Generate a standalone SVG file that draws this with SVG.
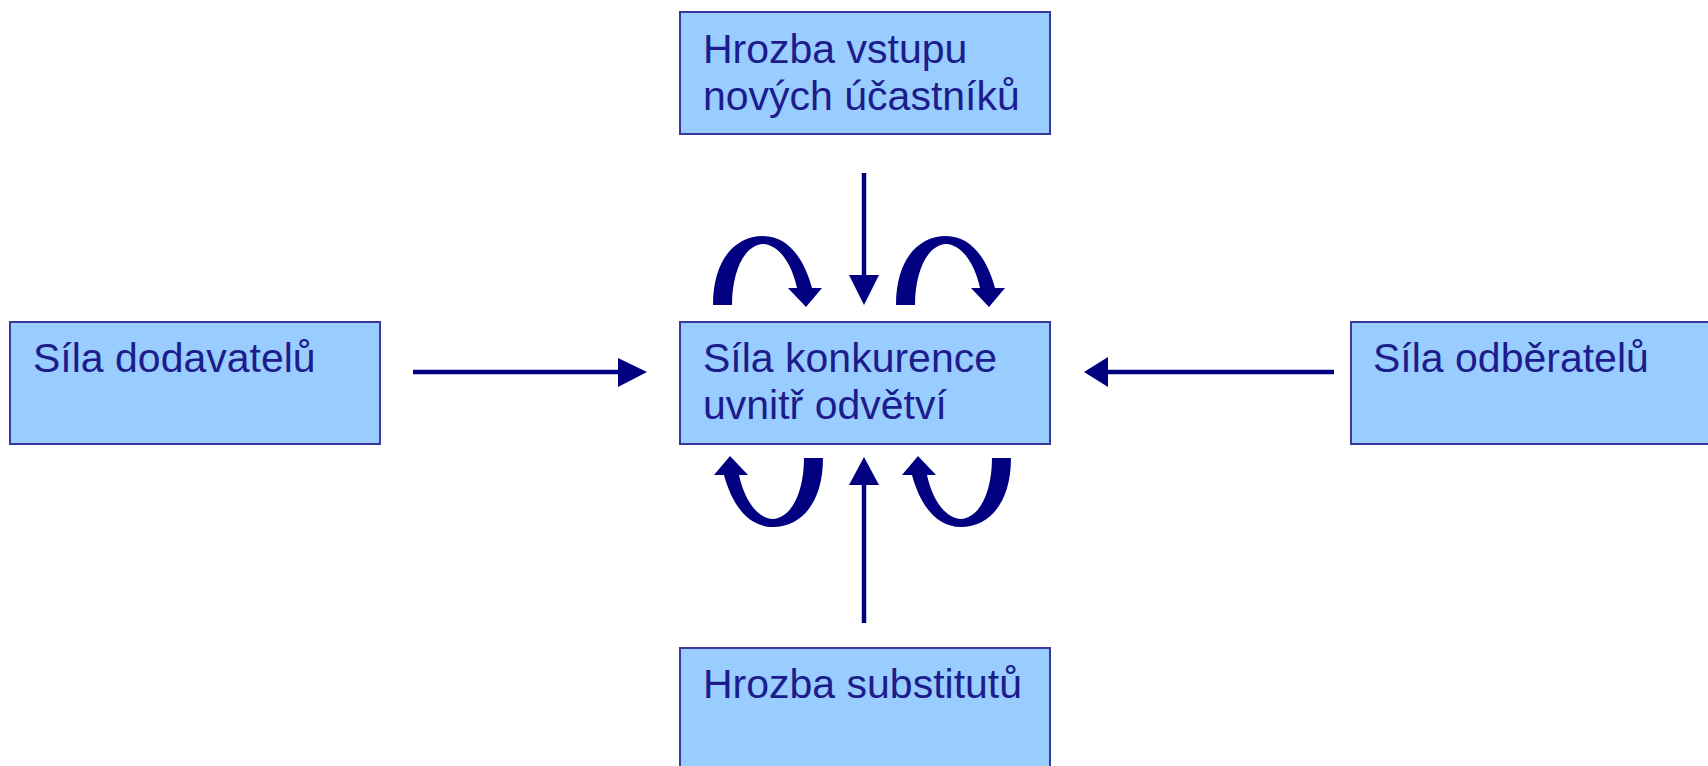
<svg xmlns="http://www.w3.org/2000/svg" xmlns:xlink="http://www.w3.org/1999/xlink" width="1708" height="766" viewBox="0 0 1708 766">
<style>
.box{fill:#99CCFF;stroke:#3A3A9C;stroke-width:2}
.lbl{font-family:"Liberation Sans",Arial,sans-serif;font-size:41px;fill:#1C1C8C}
.ln{stroke:#000080;stroke-width:4.5;fill:none}
.hd{fill:#000080}
</style>
<defs>
<path id="curl" d="M 0,0 C 0,-45 22,-69 50,-69 C 77,-69 92,-43 99,-17 L 109,-17 L 93,2 L 75,-17 L 84,-17 C 79,-40 67,-60 50,-61 C 32,-60 19,-35 19,0 Z" fill="#000080"/>
</defs>
<rect width="1708" height="766" fill="#ffffff"/>
<g id="connectors">
<line class="ln" x1="413" y1="372" x2="622" y2="372"/>
<polygon class="hd" points="618,358 647,372 618,387"/>
<line class="ln" x1="1334" y1="372" x2="1104" y2="372"/>
<polygon class="hd" points="1108,357 1084,372 1108,387"/>
<line class="ln" x1="864" y1="173" x2="864" y2="278"/>
<polygon class="hd" points="849,275 879,275 864,305"/>
<line class="ln" x1="864" y1="623" x2="864" y2="482"/>
<polygon class="hd" points="849,485 879,485 864,457"/>
<use xlink:href="#curl" href="#curl" transform="translate(713,305)"/>
<use xlink:href="#curl" href="#curl" transform="translate(896,305)"/>
<use xlink:href="#curl" href="#curl" transform="rotate(180 768 381.5) translate(713,305)"/>
<use xlink:href="#curl" href="#curl" transform="rotate(180 953.5 381.5) translate(896,305)"/>
</g>
<g id="node-entrants">
<rect class="box" x="680" y="12" width="370" height="122"/>
<text class="lbl" x="703" y="63">Hrozba vstupu</text>
<text class="lbl" x="703" y="110">nových účastníků</text>
</g>
<g id="node-suppliers">
<rect class="box" x="10" y="322" width="370" height="122"/>
<text class="lbl" x="33" y="372">Síla dodavatelů</text>
</g>
<g id="node-rivalry">
<rect class="box" x="680" y="322" width="370" height="122"/>
<text class="lbl" x="703" y="372">Síla konkurence</text>
<text class="lbl" x="703" y="419">uvnitř odvětví</text>
</g>
<g id="node-buyers">
<rect class="box" x="1351" y="322" width="370" height="122"/>
<text class="lbl" x="1373" y="372">Síla odběratelů</text>
</g>
<g id="node-substitutes">
<rect class="box" x="680" y="648" width="370" height="130"/>
<text class="lbl" x="703" y="698">Hrozba substitutů</text>
</g>
</svg>
